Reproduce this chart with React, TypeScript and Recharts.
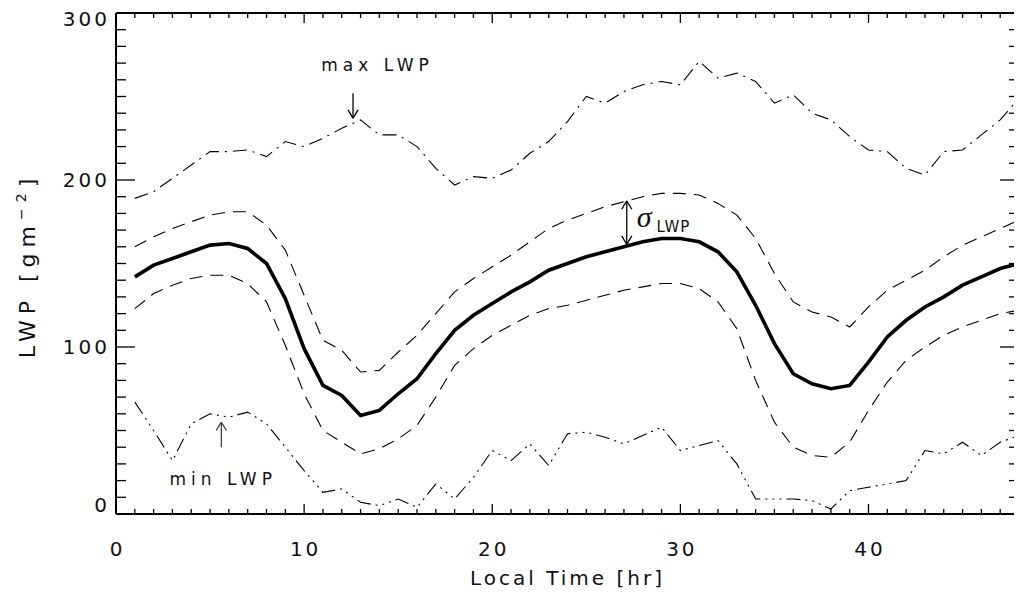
import React from "react";
import { LineChart, Line, XAxis, YAxis, ReferenceLine, ReferenceDot } from "recharts";

// hours of the composite day (two days shown)
const hours = [
  1, 2, 3, 4, 5, 6, 7, 8, 9, 10, 11, 12, 13, 14, 15, 16, 17, 18, 19, 20, 21, 22, 23, 24,
  25, 26, 27, 28, 29, 30, 31, 32, 33, 34, 35, 36, 37, 38, 39, 40, 41, 42, 43, 44, 45, 46, 47, 48,
];

const meanLwp = [
  142, 149, 153, 157, 161, 162, 159, 150, 129, 99, 77, 71, 59, 62, 72, 81, 96, 110, 119, 126, 133, 139, 146, 150,
  154, 157, 160, 163, 165, 165, 163, 157, 145, 125, 102, 84, 78, 75, 77, 91, 106, 116, 124, 130, 137, 142, 147, 150,
];

const upperSigma = [
  160, 166, 171, 175, 179, 181, 181, 173, 158, 131, 104, 98, 85, 86, 97, 107, 120, 133, 141, 148, 155, 163, 171, 176,
  180, 184, 187, 190, 192, 192, 191, 186, 179, 165, 144, 127, 121, 118, 112, 124, 134, 140, 146, 154, 161, 166, 171, 176,
];

const lowerSigma = [
  123, 132, 137, 141, 143, 143, 138, 127, 101, 72, 50, 43, 36, 39, 45, 53, 70, 89, 99, 107, 113, 119, 123, 125,
  128, 131, 134, 136, 138, 138, 135, 127, 111, 80, 55, 40, 35, 34, 43, 62, 79, 92, 100, 107, 112, 116, 120, 122,
];

const maxLwp = [
  189, 193, 201, 209, 217, 217, 218, 214, 223, 220, 225, 231, 236, 227, 227, 220, 207, 197, 202, 201, 206, 216, 223, 235,
  250, 246, 253, 257, 259, 257, 271, 261, 264, 259, 246, 251, 240, 236, 226, 218, 217, 207, 203, 217, 218, 227, 236, 249,
];

const minLwp = [
  67, 50, 32, 54, 60, 58, 61, 54, 40, 26, 13, 15, 7, 5, 9, 4, 18, 9, 22, 38, 32, 42, 29, 48,
  49, 46, 42, 47, 52, 38, 41, 44, 30, 9, 9, 9, 8, 3, 14, 16, 18, 20, 38, 36, 43, 35, 43, 47,
];

const xTicks = Array.from({ length: 49 }, (_, i) => i);
const yTicks = Array.from({ length: 31 }, (_, i) => i * 10);

const data = hours.map((h, i) => ({
  hour: h,
  mean: meanLwp[i],
  hi: upperSigma[i],
  lo: lowerSigma[i],
  max: maxLwp[i],
  min: minLwp[i],
}));

const FONT = "'DejaVu Sans', 'Liberation Sans', sans-serif";
const INK = "#111";

function BottomTick(props: any) {
  const { x, y, payload } = props;
  const major = payload.value % 10 === 0;
  return (
    <g>
      <line x1={x} y1={y} x2={x} y2={y - (major ? 10 : 5)} stroke="#000" strokeWidth={1.3} />
      {major && (
        <text x={x + 1.5} y={y + 42} textAnchor="middle" fontFamily={FONT} fontSize={20} letterSpacing={3} fill={INK}>
          {payload.value}
        </text>
      )}
    </g>
  );
}

function TopTick(props: any) {
  const { x, y, payload } = props;
  const major = payload.value % 10 === 0;
  return <line x1={x} y1={y} x2={x} y2={y + (major ? 10 : 5)} stroke="#000" strokeWidth={1.3} />;
}

function LeftTick(props: any) {
  const { x, y, payload } = props;
  const major = payload.value % 100 === 0;
  const dy = payload.value === 0 ? -2 : payload.value === 300 ? 13 : 7;
  return (
    <g>
      <line x1={x} y1={y} x2={x + (major ? 19 : 10)} y2={y} stroke="#000" strokeWidth={1.3} />
      {major && (
        <text x={x - 6} y={y + dy} textAnchor="end" fontFamily={FONT} fontSize={20} letterSpacing={3} fill={INK}>
          {payload.value}
        </text>
      )}
    </g>
  );
}

function RightTick(props: any) {
  const { x, y, payload } = props;
  const major = payload.value % 100 === 0;
  return <line x1={x} y1={y} x2={x - (major ? 19 : 10)} y2={y} stroke="#000" strokeWidth={1.3} />;
}

function YTitle(props: any) {
  const { viewBox } = props;
  const cx = viewBox.x + 27;
  const cy = viewBox.y + viewBox.height / 2 + 2;
  return (
    <text
      x={cx}
      y={cy}
      transform={`rotate(-90 ${cx} ${cy})`}
      textAnchor="middle"
      fontFamily={FONT}
      fontSize={22}
      letterSpacing={6}
      fill={INK}
    >
      LWP [gm
      <tspan dy={-9} fontSize={14}>−2</tspan>
      <tspan dy={9}>]</tspan>
    </text>
  );
}

function XTitle(props: any) {
  const { viewBox } = props;
  return (
    <text
      x={viewBox.x + viewBox.width / 2}
      y={viewBox.y + 71}
      textAnchor="middle"
      fontFamily={FONT}
      fontSize={20}
      letterSpacing={3}
      fill={INK}
    >
      Local Time [hr]
    </text>
  );
}

function NoteText(props: any) {
  const { viewBox, value } = props;
  return (
    <text x={viewBox.x} y={viewBox.y} textAnchor="middle" fontFamily={FONT} fontSize={17} letterSpacing={5} fill={INK}>
      {value}
    </text>
  );
}

function SigmaText(props: any) {
  const { viewBox } = props;
  return (
    <text x={viewBox.x} y={viewBox.y} fill={INK}>
      <tspan fontFamily="'Liberation Serif', serif" fontStyle="italic" fontSize={30}>
        σ
      </tspan>
      <tspan dx={5} dy={5} fontFamily={FONT} fontSize={15} letterSpacing={1}>
        LWP
      </tspan>
    </text>
  );
}

// annotation arrows in data units: [x, tail, head, doubleHeaded, colour]
const arrowSpecs: [number, number, number, boolean, string][] = [
  [12.6, 252, 237, false, "#000"],
  [5.6, 40, 55, false, "#444"],
  [27.15, 161.5, 187.5, true, "#000"],
];

function arrowSegments(x: number, y1: number, y2: number, both: boolean) {
  const hw = 0.27;
  const hl = 5;
  const segs: { x: number; y: number }[][] = [[{ x, y: y1 }, { x, y: y2 }]];
  const d = Math.sign(y2 - y1);
  segs.push([{ x: x - hw, y: y2 - d * hl }, { x, y: y2 }]);
  segs.push([{ x: x + hw, y: y2 - d * hl }, { x, y: y2 }]);
  if (both) {
    segs.push([{ x: x - hw, y: y1 + d * hl }, { x, y: y1 }]);
    segs.push([{ x: x + hw, y: y1 + d * hl }, { x, y: y1 }]);
  }
  return segs;
}

const arrowLines = arrowSpecs.flatMap(([x, a, b, both, color], k) =>
  arrowSegments(x, a, b, both).map((seg, j) => (
    <ReferenceLine key={`arr-${k}-${j}`} segment={seg} stroke={color} strokeWidth={1.3} ifOverflow="visible" />
  ))
);

export default function App() {
  return (
    <div style={{ width: 1014, height: 585, background: "#fff" }}>
      <LineChart width={1014} height={585} data={data} margin={{ top: 4, right: 2, bottom: 0, left: 0 }}>
        <XAxis
          dataKey="hour"
          type="number"
          domain={[0, 48]}
          ticks={xTicks}
          interval={0}
          tickSize={0}
          tickMargin={0}
          tickLine={false}
          tick={<BottomTick />}
          height={79}
          axisLine={{ stroke: "#000", strokeWidth: 2 }}
          label={<XTitle />}
        />
        <XAxis
          xAxisId="top"
          orientation="top"
          dataKey="hour"
          type="number"
          domain={[0, 48]}
          ticks={xTicks}
          interval={0}
          tickSize={0}
          tickMargin={0}
          tickLine={false}
          tick={<TopTick />}
          height={1}
          axisLine={{ stroke: "#000", strokeWidth: 2 }}
        />
        <YAxis
          type="number"
          domain={[0, 300]}
          ticks={yTicks}
          interval={0}
          tickSize={0}
          tickMargin={0}
          tickLine={false}
          tick={<LeftTick />}
          width={108}
          axisLine={{ stroke: "#000", strokeWidth: 2 }}
          label={<YTitle />}
        />
        <YAxis
          yAxisId="right"
          orientation="right"
          type="number"
          domain={[0, 300]}
          ticks={yTicks}
          interval={0}
          tickSize={0}
          tickMargin={0}
          tickLine={false}
          tick={<RightTick />}
          width={1}
          axisLine={{ stroke: "#000", strokeWidth: 2 }}
        />
        <Line dataKey="max" stroke="#000" strokeWidth={1.1} strokeDasharray="14 6 2 6" dot={false} isAnimationActive={false} />
        <Line
          dataKey="min"
          xAxisId="top"
          yAxisId="right"
          stroke="#000"
          strokeWidth={1.1}
          strokeDasharray="14 5 2 5 2 5 2 5"
          dot={false}
          isAnimationActive={false}
        />
        <Line dataKey="hi" stroke="#000" strokeWidth={1.1} strokeDasharray="13 8" dot={false} isAnimationActive={false} />
        <Line dataKey="lo" stroke="#000" strokeWidth={1.1} strokeDasharray="13 8" dot={false} isAnimationActive={false} />
        <Line dataKey="mean" stroke="#000" strokeWidth={3.6} dot={false} isAnimationActive={false} />
        {arrowLines}
        <ReferenceDot x={13.9} y={265.5} r={0} fill="none" stroke="none" ifOverflow="visible" label={<NoteText value="max LWP" />} />
        <ReferenceDot x={5.7} y={17.4} r={0} fill="none" stroke="none" ifOverflow="visible" label={<NoteText value="min LWP" />} />
        <ReferenceDot x={27.68} y={171.6} r={0} fill="none" stroke="none" ifOverflow="visible" label={<SigmaText />} />
      </LineChart>
    </div>
  );
}
